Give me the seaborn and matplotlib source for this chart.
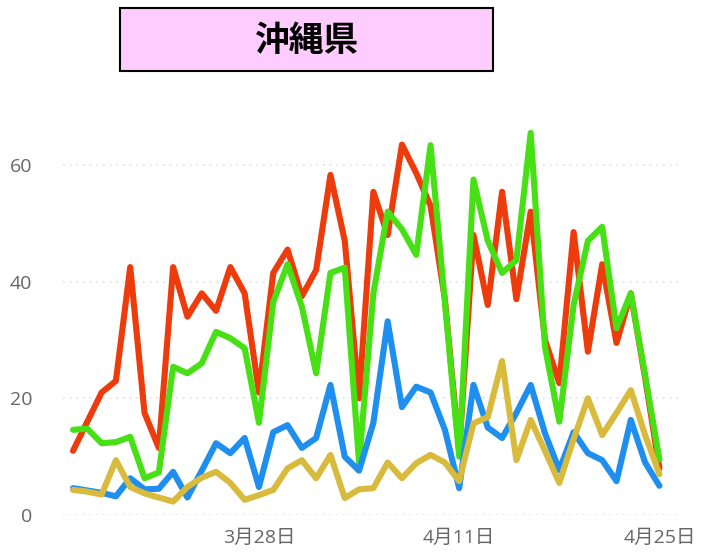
import pandas as pd
import matplotlib.pyplot as plt
import seaborn as sns
from matplotlib.patches import Rectangle

# 沖縄県: daily values, 3/15 - 4/25
start_date = "2021-03-15"
red = [11, 16, 21, 23, 42.5, 17.5, 11.5, 42.5, 34, 38, 35, 42.5, 38, 21, 41.5, 45.5, 37.5, 42, 58.3, 47,
       20, 55.4, 48, 63.5, 58.6, 53, 37, 11, 48, 36, 55.4, 37, 52, 30, 22.6, 48.5, 28, 43, 29.5, 38, 23.5, 8]
green = [14.6, 14.8, 12.3, 12.5, 13.4, 6.3, 7.3, 25.4, 24.3, 26, 31.4, 30.3, 28.6, 15.8, 36.5, 43, 35.7, 24.3, 41.5, 42.4,
         9, 38, 52, 49, 44.6, 63.4, 36.5, 10, 57.5, 47, 41.5, 43.7, 65.5, 28.8, 16, 36, 47, 49.4, 32, 38, 24, 9.5]
blue = [4.6, 4.2, 3.8, 3.2, 6.3, 4.4, 4.5, 7.4, 3, 7.6, 12.3, 10.6, 13.2, 4.8, 14.2, 15.4, 11.5, 13.2, 22.3, 10,
        7.6, 15.8, 33.2, 18.5, 22, 21, 14.6, 4.6, 22.3, 15, 13.2, 17.5, 22.3, 14, 7.7, 14.2, 10.6, 9.4, 5.8, 16.3, 9, 5]
yellow = [4.3, 4, 3.5, 9.4, 4.8, 3.7, 3, 2.3, 4.8, 6.4, 7.4, 5.5, 2.6, 3.4, 4.3, 8, 9.4, 6.3, 10.3, 2.9,
          4.4, 4.6, 9, 6.3, 8.9, 10.3, 9, 5.8, 15.7, 16.8, 26.4, 9.4, 16.3, 11, 5.5, 13, 20, 13.7, 17.5, 21.4, 13.7, 7]

tick_labels = ["3月28日", "4月11日", "4月25日"]
tick_dates = ["2021-03-28", "2021-04-11", "2021-04-25"]
yticks = [0, 20, 40, 60]

colors = {"red": "#EE3B0B", "green": "#46E014", "blue": "#1E8FEF", "yellow": "#D8BB3C"}

dates = pd.date_range(start_date, periods=len(red))
df = pd.concat(
    [
        pd.DataFrame({"date": dates, "value": v, "series": name})
        for name, v in [("red", red), ("green", green), ("blue", blue), ("yellow", yellow)]
    ],
    ignore_index=True,
)

sns.set_theme(style="white")
plt.rcParams["font.family"] = ["Open Sans", "Noto Sans CJK JP", "DejaVu Sans"]

fig = plt.figure(figsize=(7.03, 5.52), dpi=100)
ax = fig.add_axes([63 / 703, 37 / 552, 615 / 703, 385 / 552])

sns.lineplot(
    data=df,
    x="date",
    y="value",
    hue="series",
    palette=colors,
    linewidth=4.4,
    legend=False,
    ax=ax,
)

ax.set_xlim(dates[0] - pd.Timedelta(days=0.7), dates[-1] + pd.Timedelta(days=1.3))
ax.set_ylim(0, 66)
ax.set_yticks(yticks)
ax.set_yticklabels([str(t) for t in yticks])
ax.set_xticks(pd.to_datetime(tick_dates))
ax.set_xticklabels(tick_labels)
ax.set_xlabel("")
ax.set_ylabel("")
for s in ax.spines.values():
    s.set_visible(False)
ax.grid(axis="y", color="#e0e0e0", linestyle=(0, (1, 3)), linewidth=1.2)
ax.grid(axis="x", visible=False)
ax.tick_params(axis="y", length=0, pad=22, labelsize=14, labelcolor="#666666")
ax.tick_params(axis="x", length=0, pad=10, labelsize=14, labelcolor="#666666")
for line in ax.lines:
    line.set_clip_on(False)
    line.set_solid_joinstyle("round")

# title box
fig.patches.append(
    Rectangle((120 / 703, 481 / 552), 373 / 703, 63 / 552, transform=fig.transFigure,
              facecolor="#FFCCFF", edgecolor="black", linewidth=1.5)
)
fig.text(306 / 703, 1 - 40 / 552, "沖縄県", ha="center", va="center", fontsize=25,
         fontweight="bold", family=["Noto Sans CJK JP", "DejaVu Sans"], color="black")

fig.savefig("out.png", dpi=100)
